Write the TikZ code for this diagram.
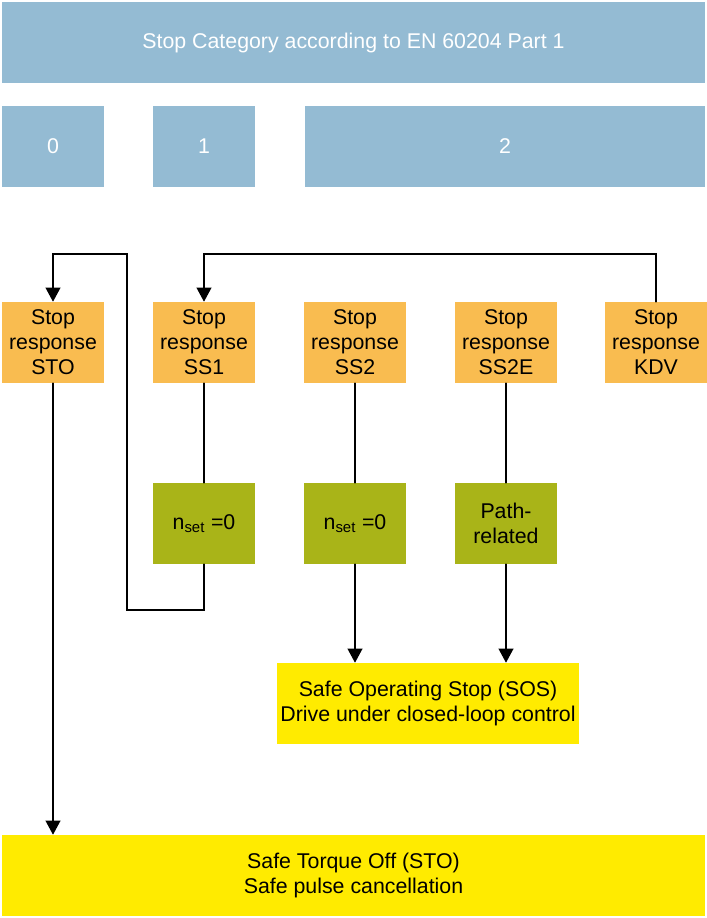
\documentclass[tikz,border=0pt]{standalone}
\usepackage{fontspec}
\setmainfont{Liberation Sans}
\usepackage{tikz}
\usetikzlibrary{arrows.meta}
\usepackage{xcolor}
\definecolor{catblue}{HTML}{94BBD3}
\definecolor{respor}{HTML}{F9BC50}
\definecolor{condgr}{HTML}{A9B418}
\definecolor{stateyl}{HTML}{FFEB00}
\tikzset{
  box/.style={inner sep=0pt,align=center,minimum height=60.75pt,font=\fontsize{16}{18.75}\selectfont},
  catbox/.style={box,fill=catblue,text=white},
  respbox/.style={box,fill=respor,minimum width=76.5pt},
  condbox/.style={box,fill=condgr,minimum width=76.5pt},
  statebox/.style={box,fill=stateyl},
  flow/.style={line width=1.2pt},
}

\begin{document}
\begin{tikzpicture}[x=0.75pt,y=-0.75pt,>={Triangle[length=10.5pt,width=11pt]},line cap=round]
\useasboundingbox (0,0) rectangle (707,918);
% categories
\node[catbox,minimum width=527.25pt] (head) at (353.5,42.5) {Stop Category according to EN 60204 Part 1};
\node[catbox,minimum width=76.5pt] (cat0) at (53,146.5) {0};
\node[catbox,minimum width=76.5pt] (cat1) at (204,146.5) {1};
\node[catbox,minimum width=300pt] (cat2) at (505,146.5) {2};
% stop responses
\node[respbox] (sto) at (53,342.5) {Stop\\response\\STO};
\node[respbox] (ss1) at (204,342.5) {Stop\\response\\SS1};
\node[respbox] (ss2) at (355,342.5) {Stop\\response\\SS2};
\node[respbox] (ss2e) at (506,342.5) {Stop\\response\\SS2E};
\node[respbox] (kdv) at (656,342.5) {Stop\\response\\KDV};
% conditions
\node[condbox] (nss1) at (204,523.5) {n\textsubscript{set} =0};
\node[condbox] (nss2) at (355,523.5) {n\textsubscript{set} =0};
\node[condbox] (path) at (506,523.5) {Path-\\related};
% resulting states
\node[statebox,minimum width=226.5pt] (sos) at (428,703.5) {Safe Operating Stop (SOS)\\Drive under closed-loop control};
\node[statebox,minimum width=527.25pt] (safeoff) at (353.5,875.5) {Safe Torque Off (STO)\\Safe pulse cancellation};
\coordinate (loopA) at (127,610);
\coordinate (loopB) at (127,254);
% connectors
\draw[flow,->] (kdv.north) -- ++(0,-48) -| (ss1.north);
\draw[flow] (ss1.south) -- (nss1.north);
\draw[flow,->] (nss1.south) |- (loopA) -- (loopB) -| (sto.north);
\draw[flow] (ss2.south) -- (nss2.north);
\draw[flow,->] (nss2.south) -- (nss2.south |- sos.north);
\draw[flow] (ss2e.south) -- (path.north);
\draw[flow,->] (path.south) -- (path.south |- sos.north);
\draw[flow,->] (sto.south) -- (sto.south |- safeoff.north);
\end{tikzpicture}
\end{document}
